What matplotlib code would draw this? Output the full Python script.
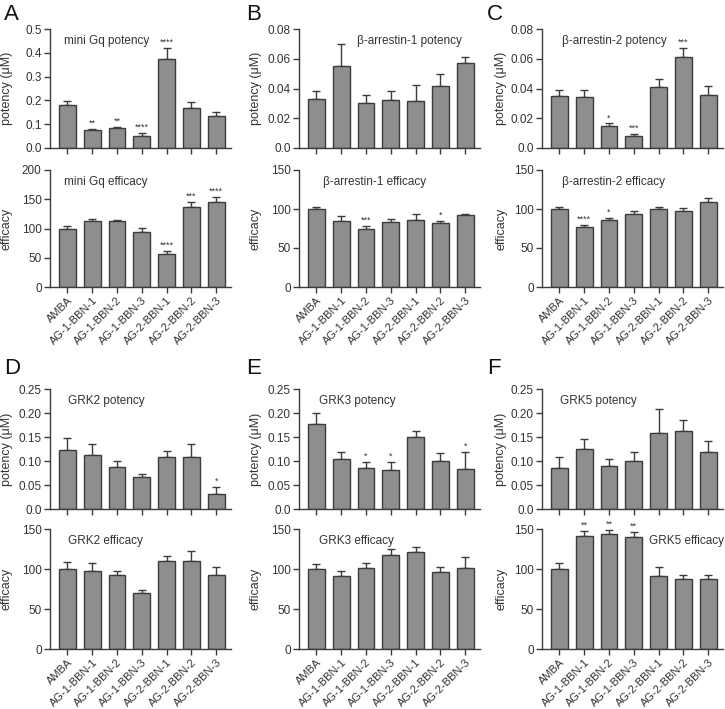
import numpy as np
import matplotlib
matplotlib.use("Agg")
import matplotlib.pyplot as plt
from matplotlib.ticker import FuncFormatter, MultipleLocator

plt.rcParams["font.family"] = ["Liberation Sans", "DejaVu Sans"]
plt.rcParams["font.size"] = 8.5

compounds = ["AMBA", "AG-1-BBN-1", "AG-1-BBN-2", "AG-1-BBN-3",
             "AG-2-BBN-1", "AG-2-BBN-2", "AG-2-BBN-3"]

# mini Gq
gq_pot = [0.180, 0.075, 0.082, 0.050, 0.375, 0.168, 0.135]
gq_pot_err = [0.018, 0.005, 0.005, 0.014, 0.046, 0.025, 0.016]
gq_pot_sig = ["", "**", "**", "****", "****", "", ""]
gq_eff = [99, 113, 112, 94, 56, 136, 146]
gq_eff_err = [5, 3, 2, 7, 6, 9, 8]
gq_eff_sig = ["", "", "", "", "****", "***", "****"]

# beta-arrestin-1
barr1_pot = [0.033, 0.055, 0.030, 0.032, 0.0315, 0.042, 0.057]
barr1_pot_err = [0.005, 0.015, 0.0055, 0.006, 0.011, 0.0075, 0.0045]
barr1_pot_sig = ["", "", "", "", "", "", ""]
barr1_eff = [100, 84, 75, 83, 86, 82, 92]
barr1_eff_err = [3, 7, 3, 4, 7, 3, 2]
barr1_eff_sig = ["", "", "***", "", "", "*", ""]

# beta-arrestin-2
barr2_pot = [0.035, 0.034, 0.0145, 0.008, 0.041, 0.061, 0.0355]
barr2_pot_err = [0.004, 0.005, 0.002, 0.0015, 0.0055, 0.006, 0.006]
barr2_pot_sig = ["", "", "*", "***", "", "***", ""]
barr2_eff = [100, 77, 86, 94, 99.5, 97.5, 109]
barr2_eff_err = [2.5, 3, 3, 3.5, 3.5, 3.5, 5]
barr2_eff_sig = ["", "****", "*", "", "", "", ""]

# GRK2
grk2_pot = [0.122, 0.113, 0.087, 0.066, 0.108, 0.108, 0.032]
grk2_pot_err = [0.025, 0.022, 0.013, 0.007, 0.012, 0.028, 0.013]
grk2_pot_sig = ["", "", "", "", "", "", "*"]
grk2_eff = [100, 98, 92, 70, 110, 110, 92]
grk2_eff_err = [9, 9, 6, 4, 6, 12, 10]
grk2_eff_sig = ["", "", "", "", "", "", ""]

# GRK3
grk3_pot = [0.178, 0.104, 0.085, 0.081, 0.149, 0.100, 0.083]
grk3_pot_err = [0.023, 0.015, 0.013, 0.017, 0.013, 0.016, 0.036]
grk3_pot_sig = ["", "", "*", "*", "", "", "*"]
grk3_eff = [100, 91, 101, 117, 121, 96, 101]
grk3_eff_err = [6, 6, 6, 8, 6, 7, 14]
grk3_eff_sig = ["", "", "", "", "", "", ""]

# GRK5
grk5_pot = [0.085, 0.124, 0.090, 0.101, 0.158, 0.162, 0.119]
grk5_pot_err = [0.024, 0.021, 0.014, 0.017, 0.050, 0.023, 0.023]
grk5_pot_sig = ["", "", "", "", "", "", ""]
grk5_eff = [100, 141, 144, 140, 91, 87, 87]
grk5_eff_err = [8, 7, 5, 6, 12, 5, 6]
grk5_eff_sig = ["", "**", "**", "**", "", "", ""]

W, H = 725, 709
fig = plt.figure(figsize=(W / 100, H / 100), dpi=100)

col_left = [50, 299, 542]
ylab_x = [13, 262, 507]
ax_w = 181
# (top, bottom) in pixels for each row of axes
rows = [(29, 148), (170, 287), (389, 509), (529, 649)]


def make_ax(col, row):
    top, bot = rows[row]
    ax = fig.add_axes([col_left[col] / W, 1 - bot / H, ax_w / W, (bot - top) / H])
    ax.yaxis.set_label_coords((ylab_x[col] - col_left[col]) / ax_w, 0.5)
    return ax


def fmt_zero(decimals):
    def f(v, pos):
        if abs(v) < 1e-12:
            return "0.0"
        return f"{v:.{decimals}f}"
    return FuncFormatter(f)


def draw(ax, vals, errs, sigs, ymax, step, decimals, title, tx, ylabel, xlabels):
    x = np.arange(len(vals))
    ax.bar(x, vals, 0.68, color="#8e8e8e", edgecolor="#3c3c3c", linewidth=1.0, zorder=2)
    ax.errorbar(x, vals, yerr=[np.zeros(len(errs)), errs], fmt="none",
                ecolor="#3c3c3c", elinewidth=1.0, capsize=3, capthick=1.0, zorder=1)
    for xi, v, e, s in zip(x, vals, errs, sigs):
        if s:
            ax.text(xi, v + e + ymax * 0.01, s, ha="center", va="bottom",
                    fontsize=6.5, color="#333333")
    ax.set_xlim(-0.7, 6.6)
    ax.set_ylim(0, ymax)
    ax.yaxis.set_major_locator(MultipleLocator(step))
    if decimals is not None:
        ax.yaxis.set_major_formatter(fmt_zero(decimals))
    for side in ("top", "right"):
        ax.spines[side].set_visible(False)
    for side in ("left", "bottom"):
        ax.spines[side].set_color("#3c3c3c")
        ax.spines[side].set_linewidth(1.0)
    ax.tick_params(axis="both", colors="#3c3c3c", labelcolor="#333333",
                   direction="out", length=4, width=1.0, labelsize=8.5, pad=2)
    ax.set_xticks(x)
    if xlabels:
        ax.set_xticklabels(compounds, rotation=45, ha="right", rotation_mode="anchor",
                           fontsize=8)
    else:
        ax.set_xticklabels([])
    ax.set_ylabel(ylabel, fontsize=9, color="#333333")
    ax.text(tx, 0.9, title, transform=ax.transAxes, ha="left", va="center",
            fontsize=8.5, color="#333333")


# top row: A, B, C
axA1 = make_ax(0, 0)
draw(axA1, gq_pot, gq_pot_err, gq_pot_sig, 0.5, 0.1, 1, "mini Gq potency", 0.08,
     "potency (\u03bcM)", False)
axA2 = make_ax(0, 1)
draw(axA2, gq_eff, gq_eff_err, gq_eff_sig, 200, 50, None, "mini Gq efficacy", 0.08,
     "efficacy", True)

axB1 = make_ax(1, 0)
draw(axB1, barr1_pot, barr1_pot_err, barr1_pot_sig, 0.08, 0.02, 2,
     "\u03b2-arrestin-1 potency", 0.32, "potency (\u03bcM)", False)
axB2 = make_ax(1, 1)
draw(axB2, barr1_eff, barr1_eff_err, barr1_eff_sig, 150, 50, None,
     "\u03b2-arrestin-1 efficacy", 0.13, "efficacy", True)

axC1 = make_ax(2, 0)
draw(axC1, barr2_pot, barr2_pot_err, barr2_pot_sig, 0.08, 0.02, 2,
     "\u03b2-arrestin-2 potency", 0.11, "potency (\u03bcM)", False)
axC2 = make_ax(2, 1)
draw(axC2, barr2_eff, barr2_eff_err, barr2_eff_sig, 150, 50, None,
     "\u03b2-arrestin-2 efficacy", 0.11, "efficacy", True)

# bottom row: D, E, F
axD1 = make_ax(0, 2)
draw(axD1, grk2_pot, grk2_pot_err, grk2_pot_sig, 0.25, 0.05, 2, "GRK2 potency", 0.1,
     "potency (\u03bcM)", False)
axD2 = make_ax(0, 3)
draw(axD2, grk2_eff, grk2_eff_err, grk2_eff_sig, 150, 50, None, "GRK2 efficacy", 0.1,
     "efficacy", True)

axE1 = make_ax(1, 2)
draw(axE1, grk3_pot, grk3_pot_err, grk3_pot_sig, 0.25, 0.05, 2, "GRK3 potency", 0.11,
     "potency (\u03bcM)", False)
axE2 = make_ax(1, 3)
draw(axE2, grk3_eff, grk3_eff_err, grk3_eff_sig, 150, 50, None, "GRK3 efficacy", 0.11,
     "efficacy", True)

axF1 = make_ax(2, 2)
draw(axF1, grk5_pot, grk5_pot_err, grk5_pot_sig, 0.25, 0.05, 2, "GRK5 potency", 0.1,
     "potency (\u03bcM)", False)
axF2 = make_ax(2, 3)
draw(axF2, grk5_eff, grk5_eff_err, grk5_eff_sig, 150, 50, None, "GRK5 efficacy", 0.59,
     "efficacy", True)

# panel letters
for letter, px, py in [("A", 4, 15), ("B", 246, 15), ("C", 487, 15),
                       ("D", 4, 369), ("E", 246, 369), ("F", 487, 369)]:
    fig.text(px / W, 1 - py / H, letter, fontsize=16, ha="left", va="center",
             color="#111111")

fig.savefig("out.png", dpi=100)
